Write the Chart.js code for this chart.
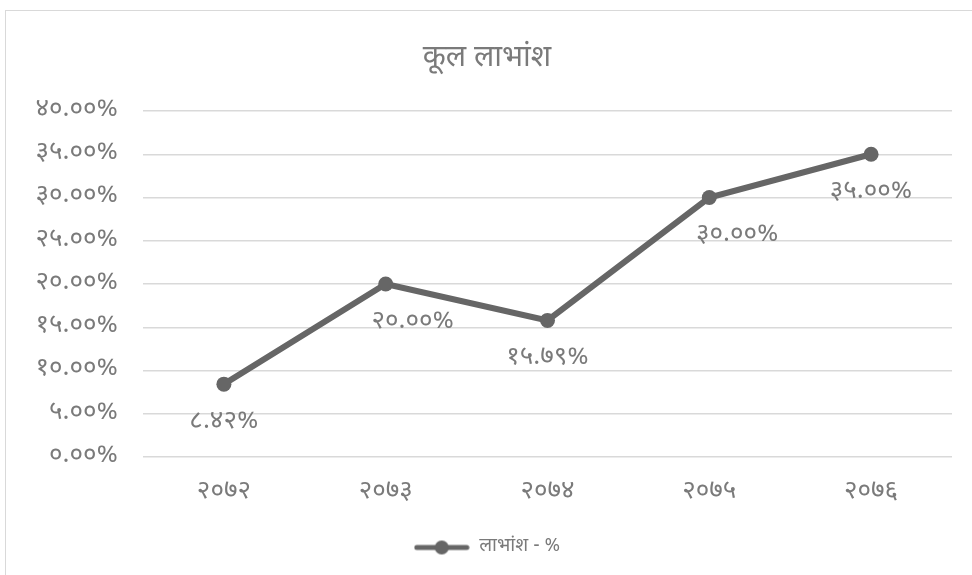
<!DOCTYPE html>
<html>
<head>
<meta charset="utf-8">
<script src="https://cdn.jsdelivr.net/npm/chart.js@4.4.1/dist/chart.umd.min.js"></script>
<style>
  html, body { margin: 0; padding: 0; background: #fff; overflow: hidden; }
  #frame { position: absolute; left: 5px; top: 10px; width: 1000px; height: 600px; border: 1px solid #d9d9d9; }
  #wrap { position: absolute; left: 0; top: 0; width: 972px; height: 575px; }
</style>
</head>
<body>
<div id="frame"></div>
<div id="wrap"><canvas id="dividendChart" width="972" height="575"></canvas></div>
<script>
  // Fiscal years and total dividend (%)
  const years = ['२०७२', '२०७३', '२०७४', '२०७५', '२०७६'];
  const dividend = [8.42, 20.00, 15.79, 30.00, 35.00];
  const seriesName = 'लाभांश - %';
  const chartTitle = 'कूल लाभांश';

  const devDigits = '०१२३४५६७८९';
  function toDev(str) {
    return String(str).replace(/[0-9]/g, d => devDigits[d]);
  }
  function pct(v) {
    return toDev(Number(v).toFixed(2)) + '%';
  }

  const lineColor = '#666666';
  const textColor = '#7a7a7a';
  const devFont = "'Noto Sans Devanagari', 'Lohit Devanagari', 'Noto Sans', sans-serif";

  // legend marker: short line with a dot in the middle
  const marker = document.createElement('canvas');
  marker.width = 56; marker.height = 16;
  (function() {
    const c = marker.getContext('2d');
    c.strokeStyle = lineColor;
    c.lineWidth = 5;
    c.lineCap = 'round';
    c.beginPath(); c.moveTo(3, 8); c.lineTo(53, 8); c.stroke();
    c.fillStyle = lineColor;
    c.beginPath(); c.arc(28, 8, 7, 0, Math.PI * 2); c.fill();
  })();

  // value labels under each point
  const valueLabels = {
    id: 'valueLabels',
    afterDatasetsDraw(chart, args, opts) {
      const ctx = chart.ctx;
      const meta = chart.getDatasetMeta(0);
      ctx.save();
      ctx.font = '26px ' + devFont;
      ctx.fillStyle = textColor;
      ctx.textAlign = 'center';
      ctx.textBaseline = 'middle';
      meta.data.forEach((pt, i) => {
        const shift = opts.shiftX[i] || 0;
        ctx.fillText(pct(dividend[i]), pt.x + shift, pt.y + opts.gap);
      });
      ctx.restore();
    }
  };

  new Chart(document.getElementById('dividendChart').getContext('2d'), {
    type: 'line',
    data: {
      labels: years,
      datasets: [{
        label: seriesName,
        data: dividend,
        borderColor: lineColor,
        backgroundColor: lineColor,
        borderWidth: 6,
        pointRadius: 7.5,
        pointHoverRadius: 7.5,
        pointBackgroundColor: lineColor,
        pointBorderWidth: 0,
        tension: 0
      }]
    },
    options: {
      responsive: false,
      animation: false,
      layout: { padding: { left: 22, right: 20, top: 42, bottom: 8 } },
      plugins: {
        title: {
          display: true,
          text: chartTitle,
          color: textColor,
          font: { family: devFont, size: 30, weight: 'normal' },
          padding: { top: 0, bottom: 33 }
        },
        legend: {
          position: 'bottom',
          labels: {
            color: textColor,
            font: { family: devFont, size: 19 },
            usePointStyle: true,
            pointStyleWidth: 56,
            boxHeight: 16,
            padding: 10,
            generateLabels() {
              return [{ text: seriesName, pointStyle: marker, fillStyle: lineColor, strokeStyle: lineColor, lineWidth: 0, fontColor: textColor, datasetIndex: 0 }];
            }
          }
        },
        tooltip: { enabled: false },
        valueLabels: { gap: 39, shiftX: [0, 27, 0, 28, 0] }
      },
      scales: {
        x: {
          offset: true,
          afterFit(scale) { scale.height = 71; },
          grid: { display: false },
          border: { display: false },
          ticks: { color: textColor, font: { family: devFont, size: 26 }, padding: 13 }
        },
        y: {
          min: 0,
          max: 40,
          afterFit(scale) { scale.width = 121; },
          grid: { color: '#d9d9d9', lineWidth: 1.5, drawTicks: false },
          border: { display: false },
          ticks: {
            stepSize: 5,
            padding: 25,
            color: textColor,
            font: { family: devFont, size: 26 },
            callback: v => pct(v)
          }
        }
      }
    },
    plugins: [valueLabels]
  });
</script>
</body>
</html>
